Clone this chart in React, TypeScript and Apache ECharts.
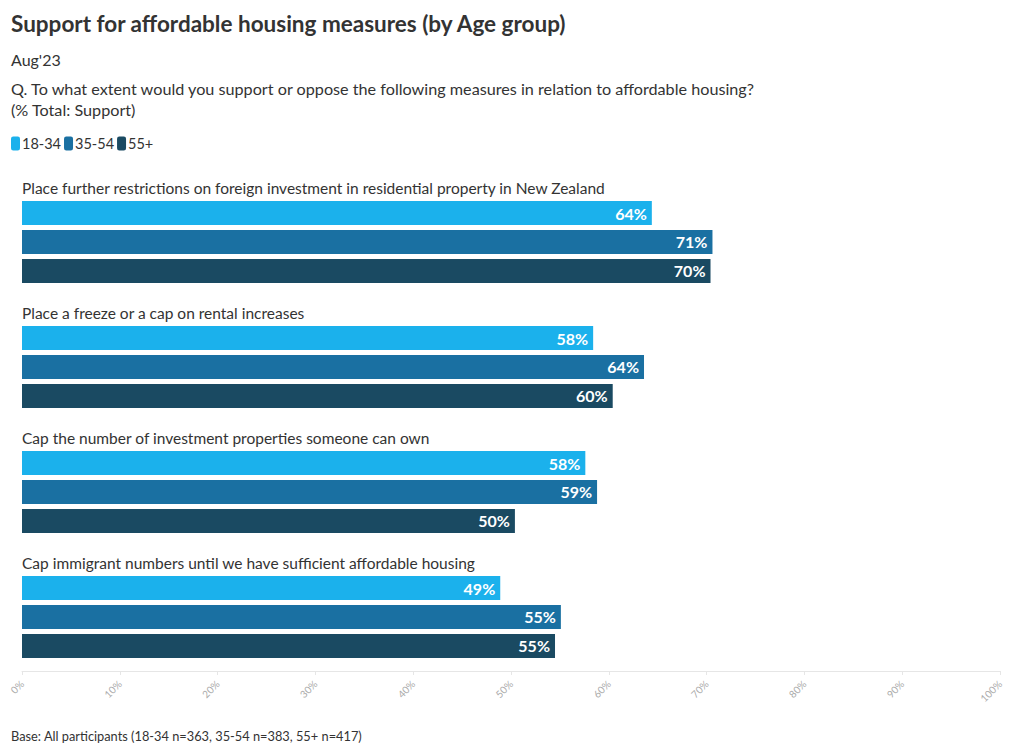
import React, { useEffect, useRef } from "react";
import * as echarts from "echarts";

const categories = [
  "Place further restrictions on foreign investment in residential property in New Zealand",
  "Place a freeze or a cap on rental increases",
  "Cap the number of investment properties someone can own",
  "Cap immigrant numbers until we have sufficient affordable housing",
];
const seriesNames = ["18-34", "35-54", "55+"];
const values1834 = [64.4, 58.4, 57.6, 48.9];
const values3554 = [70.6, 63.6, 58.8, 55.1];
const values55 = [70.4, 60.4, 50.4, 54.5];
const colors = ["#1bb1ec", "#1a70a2", "#1a4a62"];
const xTicks = [0, 10, 20, 30, 40, 50, 60, 70, 80, 90, 100];

const FONT = "Lato";

export default function App() {
  const ref = useRef<HTMLDivElement>(null);
  useEffect(() => {
    const chart = echarts.init(ref.current!, null, { renderer: "svg" });
    const valueLabel = {
      show: true,
      position: "insideRight",
      distance: 5,
      color: "#fff",
      fontFamily: FONT,
      fontWeight: "bold",
      fontSize: 16,
      formatter: (p: any) => Math.round(p.value) + "%",
    };
    const all = [values1834, values3554, values55];
    chart.setOption({
      animation: false,
      textStyle: { fontFamily: FONT },
      title: [
        {
          text: "Support for affordable housing measures (by Age group)",
          left: 11,
          top: 12,
          padding: 0,
          textStyle: { fontFamily: FONT, fontSize: 22.5, fontWeight: "bold", color: "#333" },
        },
        {
          text: "Aug'23",
          left: 11,
          top: 51,
          padding: 0,
          textStyle: { fontFamily: FONT, fontSize: 16, fontWeight: "normal", color: "#333" },
        },
        {
          text: "Q. To what extent would you support or oppose the following measures in relation to affordable housing?\n(% Total: Support)",
          left: 11,
          top: 78,
          padding: 0,
          textStyle: { fontFamily: FONT, fontSize: 16.2, fontWeight: "normal", color: "#333", lineHeight: 21 },
        },
        {
          text: "Base: All participants (18-34 n=363, 35-54 n=383, 55+ n=417)",
          left: 11,
          top: 729,
          padding: 0,
          textStyle: { fontFamily: FONT, fontSize: 12.8, fontWeight: "normal", color: "#333" },
        },
      ],
      legend: {
        left: 11,
        top: 136,
        padding: 0,
        itemWidth: 9,
        itemHeight: 14,
        itemGap: 3,
        icon: "roundRect",
        data: seriesNames,
        textStyle: { fontFamily: FONT, fontSize: 14.5, color: "#333", padding: [0, 0, 0, -3] },
      },
      grid: { left: 22, right: 20, top: 165, height: 500 },
      xAxis: {
        type: "value",
        min: 0,
        max: 100,
        interval: 10,
        offset: 6,
        axisLine: { show: true, lineStyle: { color: "#e6e6e6" } },
        axisTick: { show: true, length: 4, lineStyle: { color: "#e6e6e6" } },
        splitLine: { show: false },
        axisLabel: {
          rotate: 45,
          color: "#aaa",
          fontSize: 10,
          fontFamily: FONT,
          margin: 11,
          formatter: (v: number) => (xTicks.includes(v) ? v + "%" : ""),
        },
      },
      yAxis: {
        type: "category",
        inverse: true,
        data: categories,
        axisLine: { show: false },
        axisTick: { show: false },
        axisLabel: { show: false },
      },
      series: [
        {
          type: "bar",
          name: "_cat",
          data: categories.map(() => 0),
          barWidth: 24,
          barGap: "20.8%",
          itemStyle: { color: "transparent" },
          label: {
            show: true,
            position: "right",
            distance: 0,
            offset: [0, 4],
            color: "#333",
            fontFamily: FONT,
            fontSize: 15.5,
            formatter: (p: any) => categories[p.dataIndex],
          },
          silent: true,
        },
        ...seriesNames.map((n, i) => ({
          type: "bar",
          name: n,
          data: all[i],
          barWidth: 24,
          barGap: "20.8%",
          itemStyle: { color: colors[i] },
          label: valueLabel,
        })),
      ],
    });
    return () => chart.dispose();
  }, []);
  return (
    <div
      ref={ref}
      style={{ position: "absolute", left: 0, top: 0, width: 1020, height: 756 }}
    />
  );
}
